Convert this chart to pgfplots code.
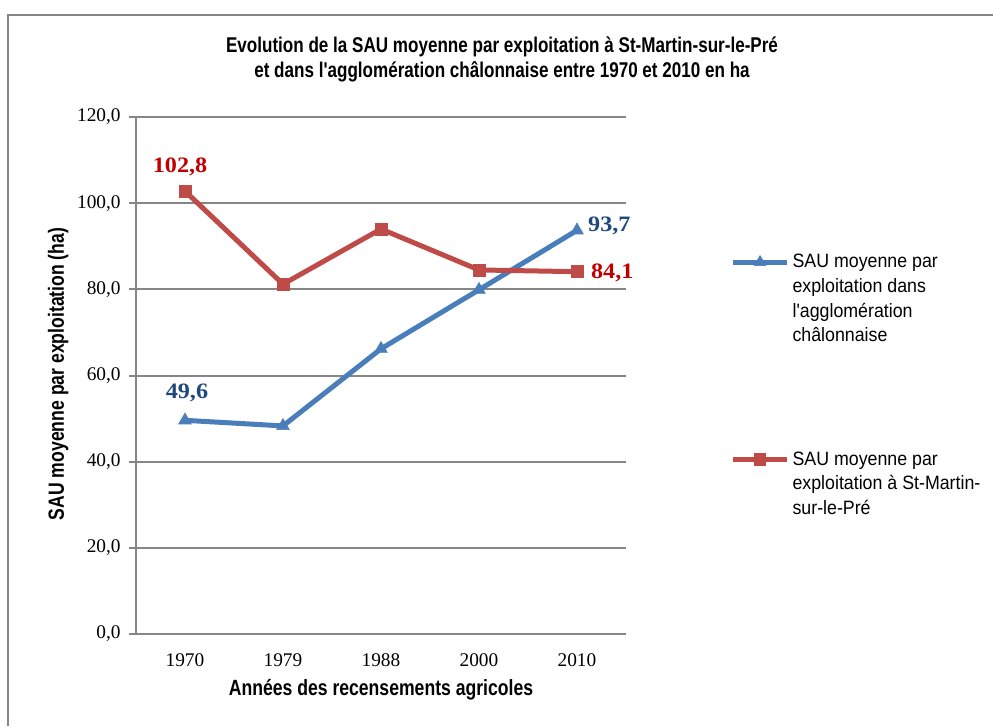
\documentclass[border=0pt]{standalone}
\usepackage{pgfplots}
\pgfplotsset{compat=1.18}
\usepackage{fontspec}
\setmainfont{Liberation Serif}
\newfontfamily\titlefont[FakeStretch=0.8]{Liberation Sans}
\newfontfamily\legfont[FakeStretch=0.92]{Liberation Sans}
\newfontfamily\labfont[FakeStretch=1.1]{Liberation Serif}
\definecolor{sblue}{RGB}{74,126,187}
\definecolor{sred}{RGB}{190,75,72}
\definecolor{lblue}{RGB}{31,73,125}
\definecolor{lred}{RGB}{192,0,0}
\definecolor{axgray}{RGB}{134,134,134}
\begin{document}
\begin{tikzpicture}
\useasboundingbox (0,0) rectangle (744.75pt,-544.5pt);
\draw[axgray, line width=1.5pt] (6pt,-544.5pt) -- (6pt,-10.9pt) -- (744.75pt,-10.9pt);
\node[font=\titlefont\bfseries\fontsize{16}{18.75}\selectfont, align=center] at (376.5pt,-44.5pt)
 {Evolution de la SAU moyenne par exploitation à St-Martin-sur-le-Pré\\et dans l'agglomération châlonnaise entre 1970 et 2010 en ha};
\begin{axis}[
 at={(102pt,-475.5pt)}, anchor=south west,
 scale only axis, width=367.5pt, height=387.75pt,
 xmin=-0.5, xmax=4.5, ymin=0, ymax=120,
 xtick={0,...,4}, xticklabels={1970,1979,1988,2000,2010},
 minor xtick={-0.5,0.5,...,4.5},
 ytick={0,20,...,120},
 yticklabels={{0,0},{20,0},{40,0},{60,0},{80,0},{100,0},{120,0}},
 axis lines*=left,
 axis line style={axgray, line width=1.5pt},
 ymajorgrids, grid style={axgray, line width=1.5pt},
 xtick style={draw=none},
 ytick style={axgray, line width=1.5pt},
 minor tick style={axgray, line width=1.5pt},
 major tick length=5pt, minor tick length=5pt,
 tick align=outside,
 ticklabel style={font=\fontsize{14.5}{16}\selectfont},
 yticklabel style={xshift=-3pt},
 xticklabel style={yshift=-6pt},
 xlabel={Années des recensements agricoles},
 ylabel={SAU moyenne par exploitation (ha)},
 label style={font=\titlefont\bfseries\fontsize{16.5}{18}\selectfont},
 xlabel style={at={(axis description cs:0.5,-0.108)}, anchor=center},
 ylabel style={at={(axis description cs:-0.159,0.503)}, anchor=center},
 clip=false,
 legend style={at={(axis description cs:1.204,0.745)}, anchor=north west, draw=none, fill=none,
   font=\legfont\fontsize{14.5}{18.4}\selectfont, row sep=77pt,
   nodes={align=left}},
 legend cell align=left,
 legend image code/.code={\draw[#1, mark repeat=2, mark phase=2] plot coordinates {(0pt,0pt)(20.5pt,0pt)(41pt,0pt)};},
]
\addplot[sblue, line width=3.75pt, mark=triangle*, mark size=5.5pt, mark options={line width=0.4pt}, forget plot]
 coordinates {(0,49.6)(1,48.3)(2,66.2)(3,79.9)(4,93.7)};
\addplot[sred, line width=3.75pt, mark=square*, mark size=4.5pt, mark options={line width=0.4pt}, forget plot]
 coordinates {(0,102.8)(1,81.2)(2,94.0)(3,84.5)(4,84.1)};
\addlegendimage{sblue, line width=3.75pt, mark=triangle*, mark size=5pt, mark options={line width=0.4pt}, yshift=27.6pt}
\addlegendentry{SAU moyenne par\\exploitation dans\\l'agglomération\\châlonnaise}
\addlegendimage{sred, line width=3.75pt, mark=square*, mark size=4.2pt, mark options={line width=0.4pt}, yshift=18.4pt}
\addlegendentry{SAU moyenne par\\exploitation à St-Martin-\\sur-le-Pré}
\node[font=\labfont\bfseries\fontsize{16.5}{18}\selectfont, text=lred] at (axis cs:-0.05,108.4) {102,8};
\node[font=\labfont\bfseries\fontsize{16.5}{18}\selectfont, text=lblue] at (axis cs:0.02,55.9) {49,6};
\node[font=\labfont\bfseries\fontsize{16.5}{18}\selectfont, text=lblue] at (axis cs:4.33,94.7) {93,7};
\node[font=\labfont\bfseries\fontsize{16.5}{18}\selectfont, text=lred] at (axis cs:4.36,83.8) {84,1};
\end{axis}
\end{tikzpicture}
\end{document}
